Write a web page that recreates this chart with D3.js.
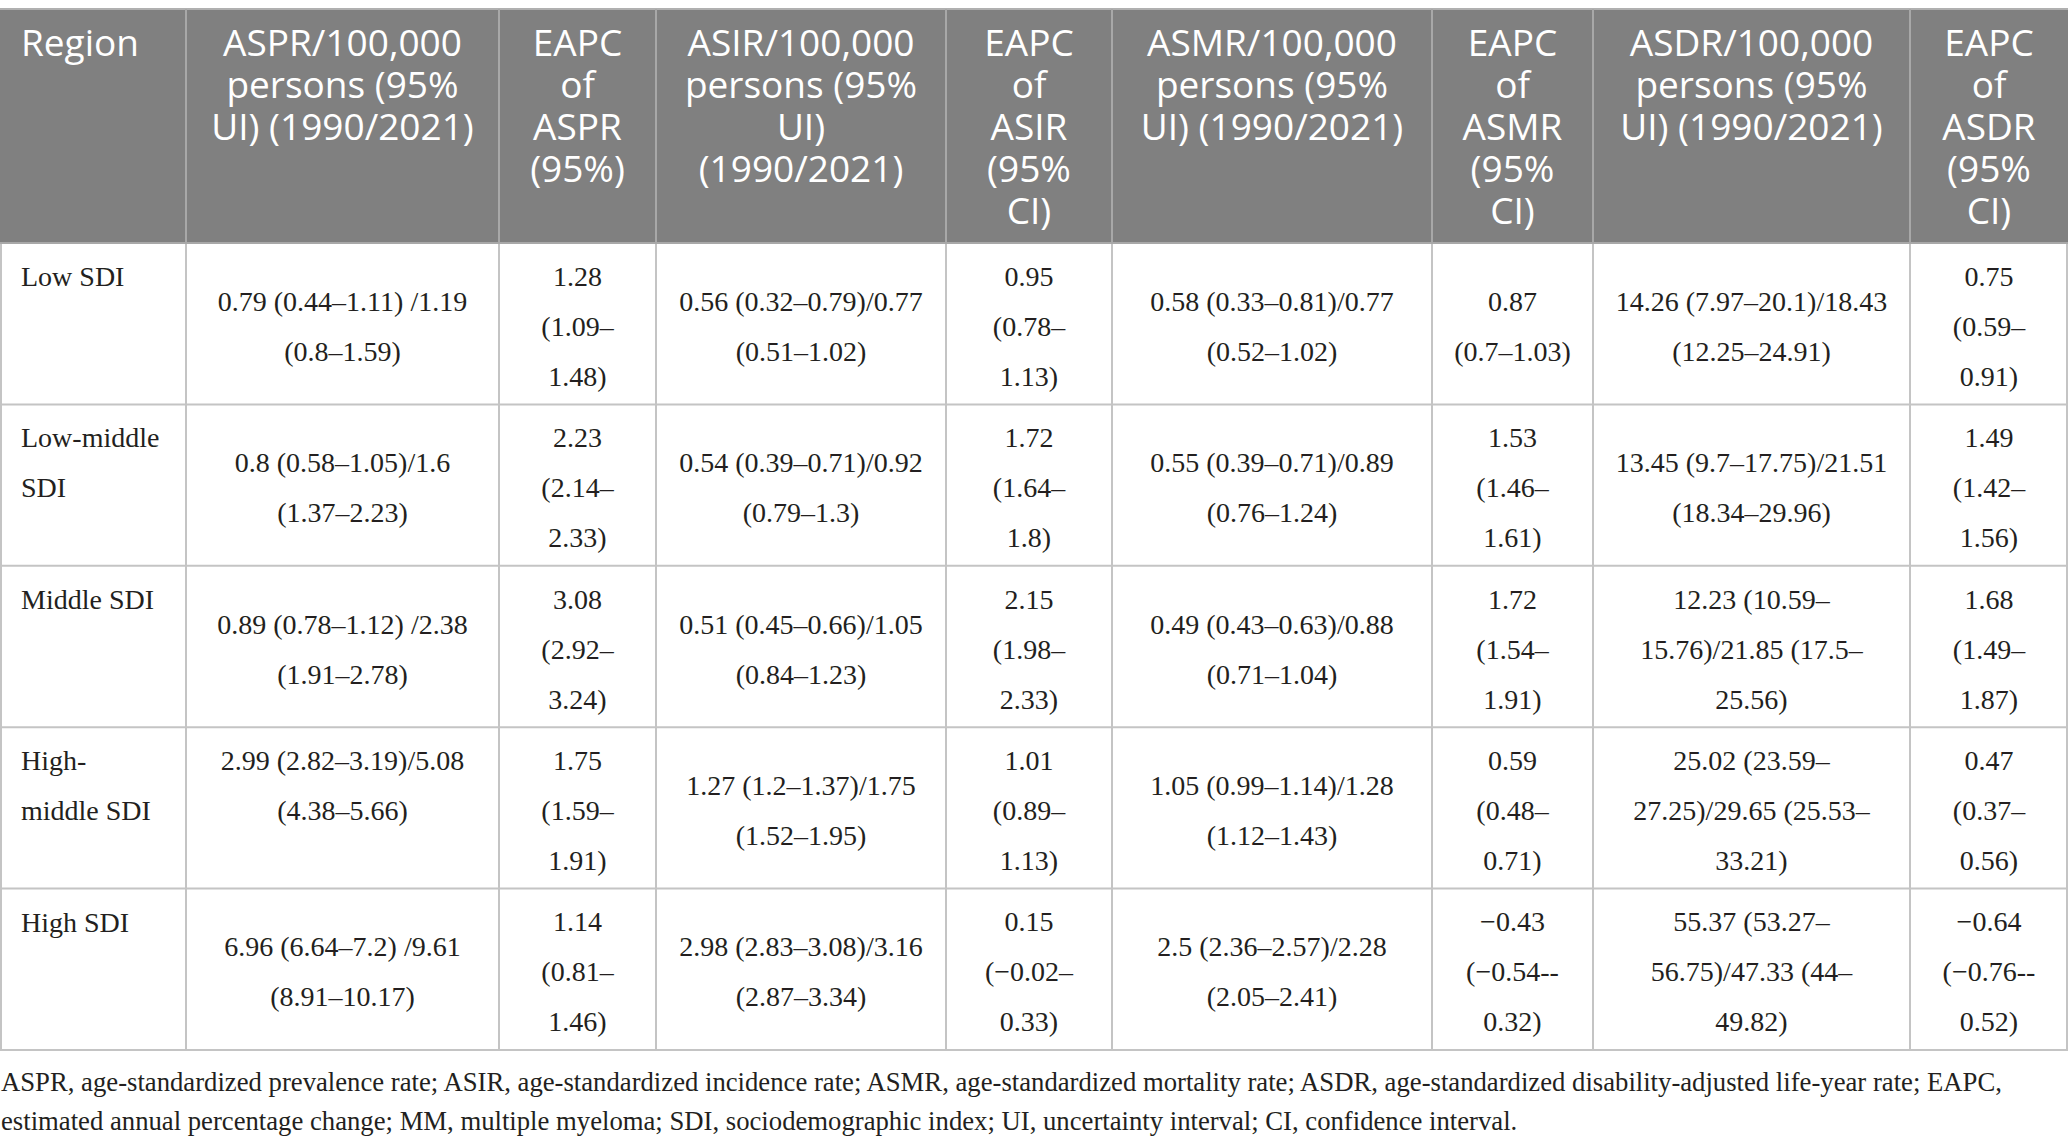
<!DOCTYPE html>
<html><head><meta charset="utf-8">
<script src="https://cdn.jsdelivr.net/npm/d3@7"></script>
<style>html,body{margin:0;padding:0;background:#fff;overflow:hidden;}</style>
</head><body>
<svg id="chart" width="2068" height="1145"></svg>
<script>
// ---------- DATA ----------
const columns = ["region","aspr","eapcAspr","asir","eapcAsir","asmr","eapcAsmr","asdr","eapcAsdr"];
const headers = [
  "Region",
  "ASPR/100,000\npersons (95%\nUI) (1990/2021)",
  "EAPC\nof\nASPR\n(95%)",
  "ASIR/100,000\npersons (95%\nUI)\n(1990/2021)",
  "EAPC\nof\nASIR\n(95%\nCI)",
  "ASMR/100,000\npersons (95%\nUI) (1990/2021)",
  "EAPC\nof\nASMR\n(95%\nCI)",
  "ASDR/100,000\npersons (95%\nUI) (1990/2021)",
  "EAPC\nof\nASDR\n(95%\nCI)"
];
const regions = ["Low SDI","Low-middle\nSDI","Middle SDI","High-\nmiddle SDI","High SDI"];
const aspr = [
  "0.79 (0.44–1.11) /1.19\n(0.8–1.59)",
  "0.8 (0.58–1.05)/1.6\n(1.37–2.23)",
  "0.89 (0.78–1.12) /2.38\n(1.91–2.78)",
  "2.99 (2.82–3.19)/5.08\n(4.38–5.66)",
  "6.96 (6.64–7.2) /9.61\n(8.91–10.17)"
];
const eapcAspr = [
  "1.28\n(1.09–\n1.48)",
  "2.23\n(2.14–\n2.33)",
  "3.08\n(2.92–\n3.24)",
  "1.75\n(1.59–\n1.91)",
  "1.14\n(0.81–\n1.46)"
];
const asir = [
  "0.56 (0.32–0.79)/0.77\n(0.51–1.02)",
  "0.54 (0.39–0.71)/0.92\n(0.79–1.3)",
  "0.51 (0.45–0.66)/1.05\n(0.84–1.23)",
  "1.27 (1.2–1.37)/1.75\n(1.52–1.95)",
  "2.98 (2.83–3.08)/3.16\n(2.87–3.34)"
];
const eapcAsir = [
  "0.95\n(0.78–\n1.13)",
  "1.72\n(1.64–\n1.8)",
  "2.15\n(1.98–\n2.33)",
  "1.01\n(0.89–\n1.13)",
  "0.15\n(−0.02–\n0.33)"
];
const asmr = [
  "0.58 (0.33–0.81)/0.77\n(0.52–1.02)",
  "0.55 (0.39–0.71)/0.89\n(0.76–1.24)",
  "0.49 (0.43–0.63)/0.88\n(0.71–1.04)",
  "1.05 (0.99–1.14)/1.28\n(1.12–1.43)",
  "2.5 (2.36–2.57)/2.28\n(2.05–2.41)"
];
const eapcAsmr = [
  "0.87\n(0.7–1.03)",
  "1.53\n(1.46–\n1.61)",
  "1.72\n(1.54–\n1.91)",
  "0.59\n(0.48–\n0.71)",
  "−0.43\n(−0.54--\n0.32)"
];
const asdr = [
  "14.26 (7.97–20.1)/18.43\n(12.25–24.91)",
  "13.45 (9.7–17.75)/21.51\n(18.34–29.96)",
  "12.23 (10.59–\n15.76)/21.85 (17.5–\n25.56)",
  "25.02 (23.59–\n27.25)/29.65 (25.53–\n33.21)",
  "55.37 (53.27–\n56.75)/47.33 (44–\n49.82)"
];
const eapcAsdr = [
  "0.75\n(0.59–\n0.91)",
  "1.49\n(1.42–\n1.56)",
  "1.68\n(1.49–\n1.87)",
  "0.47\n(0.37–\n0.56)",
  "−0.64\n(−0.76--\n0.52)"
];
const footnote = [
  "ASPR, age-standardized prevalence rate; ASIR, age-standardized incidence rate; ASMR, age-standardized mortality rate; ASDR, age-standardized disability-adjusted life-year rate; EAPC,",
  "estimated annual percentage change; MM, multiple myeloma; SDI, sociodemographic index; UI, uncertainty interval; CI, confidence interval."
];

// ---------- LAYOUT ----------
const W = 2068, H = 1145;
const colEdges = [0,186,499,656,946,1112,1432,1593,1910,2068];
const headTop = 9, headBottom = 243, tableBottom = 1050;
const xLeft = d3.scaleOrdinal().domain(columns).range(colEdges.slice(0,-1));
const xRight = d3.scaleOrdinal().domain(columns).range(colEdges.slice(1));
const y = d3.scaleBand().domain(regions).range([headBottom, tableBottom]);
const topAligned = new Set(["3|aspr"]);
const bodyLH = 50, headLH = 42;

const tableCols = {region: regions, aspr, eapcAspr, asir, eapcAsir, asmr, eapcAsmr, asdr, eapcAsdr};
const bodyLines = [];
regions.forEach((r, ri) => columns.forEach(c => {
  const lines = tableCols[c][ri].split("\n");
  const n = lines.length;
  const top = c === "region" || topAligned.has(ri + "|" + c);
  lines.forEach((ln, li) => bodyLines.push({row: r, col: c, text: ln, li, n, top}));
}));
const headLines = [];
columns.forEach((c, i) => headers[i].split("\n").forEach((ln, li) => headLines.push({col: c, text: ln, li})));

const cx = c => c === "region" ? xLeft(c) + 21 : (xLeft(c) + xRight(c)) / 2;

const svg = d3.select("#chart");

// header background
svg.append("rect").attr("x",0).attr("y",headTop).attr("width",W).attr("height",headBottom-headTop).attr("fill","#808080");
svg.append("line").attr("x1",0).attr("x2",W).attr("y1",headTop).attr("y2",headTop).attr("stroke","#b0b0b0").attr("stroke-width",2);

// header text
svg.append("g").attr("font-family","'Open Sans', 'Noto Sans', sans-serif").attr("font-size",37).attr("fill","#fff")
  .selectAll("text").data(headLines).join("text")
  .attr("text-anchor", d => d.col === "region" ? "start" : "middle")
  .attr("x", d => cx(d.col))
  .attr("y", d => 56 + d.li * headLH)
  .text(d => d.text);

// header separators
svg.append("g").selectAll("line").data(columns.slice(1)).join("line")
  .attr("x1", d => xLeft(d)).attr("x2", d => xLeft(d))
  .attr("y1", headTop).attr("y2", headBottom)
  .attr("stroke","#a8a8a8").attr("stroke-width",2);

// body grid
const grid = svg.append("g").attr("stroke","#c4c4c4").attr("stroke-width",2);
grid.selectAll("line.h").data(regions).join("line").attr("class","h")
  .attr("x1",0).attr("x2",W)
  .attr("y1", d => y(d) + y.bandwidth()).attr("y2", d => y(d) + y.bandwidth());
grid.selectAll("line.v").data(columns.slice(1)).join("line").attr("class","v")
  .attr("x1", d => xLeft(d)).attr("x2", d => xLeft(d))
  .attr("y1", headBottom).attr("y2", tableBottom);
grid.append("line").attr("x1",1).attr("x2",1).attr("y1",headBottom).attr("y2",tableBottom);
grid.append("line").attr("x1",W-1).attr("x2",W-1).attr("y1",headBottom).attr("y2",tableBottom);
svg.append("line").attr("x1",0).attr("x2",W).attr("y1",headBottom).attr("y2",headBottom).attr("stroke","#a8a8a8").attr("stroke-width",2);

// body text
svg.append("g").attr("font-family","'Liberation Serif', 'Times New Roman', serif").attr("font-size",28).attr("fill","#231f20")
  .selectAll("text").data(bodyLines).join("text")
  .attr("text-anchor", d => d.col === "region" ? "start" : "middle")
  .attr("x", d => cx(d.col))
  .attr("y", d => d.top ? y(d.row) + 43 + d.li * bodyLH
                        : y(d.row) + y.bandwidth() / 2 + (d.li - (d.n - 1) / 2) * bodyLH + 12)
  .text(d => d.text);

// footnote
svg.append("g").attr("font-family","'Liberation Serif', 'Times New Roman', serif").attr("font-size",26.7).attr("fill","#231f20")
  .selectAll("text").data(footnote).join("text")
  .attr("x", 1).attr("y", (d, i) => 1091 + i * 39).text(d => d);
</script>
</body></html>
